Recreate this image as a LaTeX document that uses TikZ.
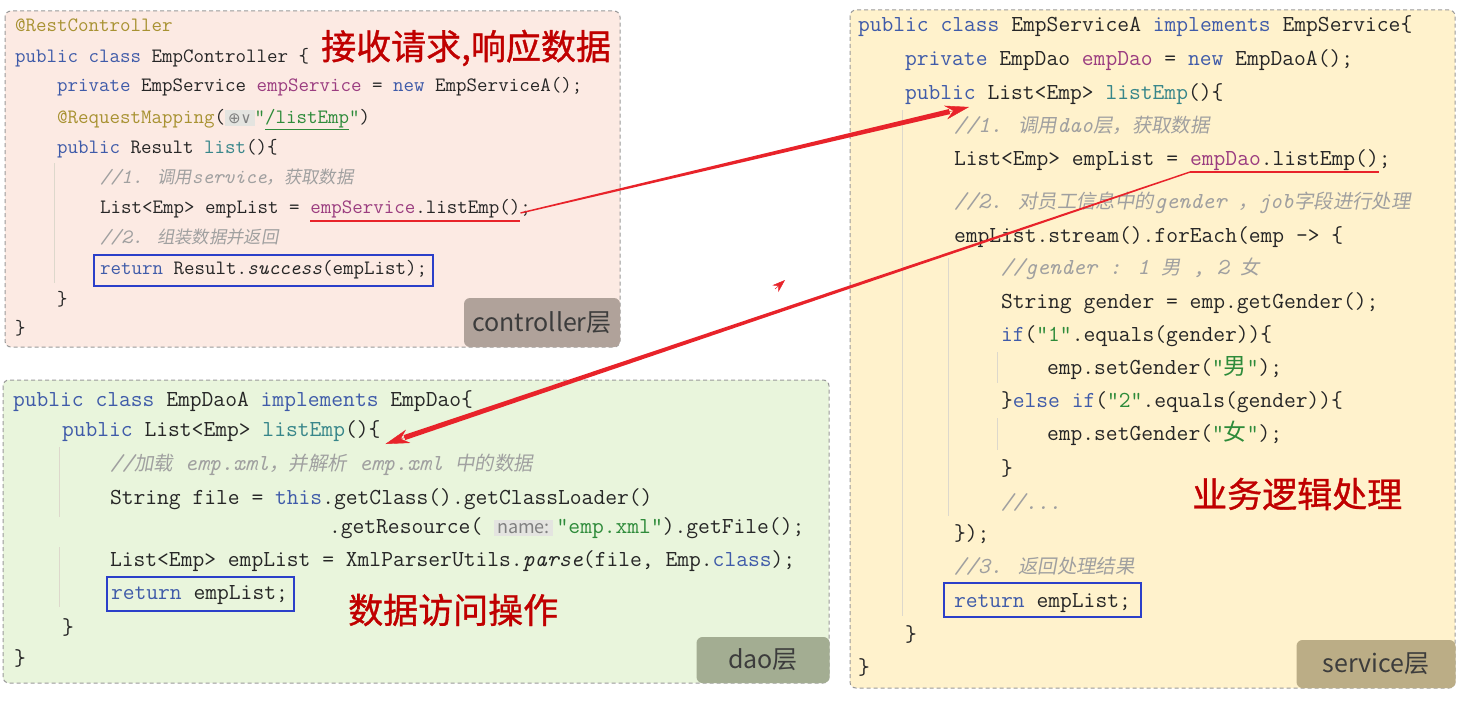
\documentclass[tikz,border=0pt]{standalone}
\usepackage{fontspec}
\usepackage{xcolor}
\usetikzlibrary{positioning,arrows.meta,calc}
\newfontfamily\cjk{Noto Sans CJK SC}
\newfontfamily\cjkit[FakeSlant=0.18,Scale=0.85]{Noto Sans CJK SC}
\newfontfamily\cjkbold[FakeBold=1]{Noto Sans CJK SC}
\newfontfamily\symfont{DejaVu Sans}

\definecolor{ctlfill}{HTML}{FCEAE3}
\definecolor{daofill}{HTML}{E9F5DC}
\definecolor{svcfill}{HTML}{FFF2CC}
\definecolor{ctltag}{HTML}{B0A29A}
\definecolor{daotag}{HTML}{A3AD92}
\definecolor{svctag}{HTML}{BBAD86}
\definecolor{tagtext}{HTML}{3C3C3C}
\definecolor{bordergray}{HTML}{9A9A9A}
\definecolor{guidegray}{HTML}{DDD8CC}
\definecolor{kwblue}{HTML}{3F5BA9}
\definecolor{annogold}{HTML}{A89232}
\definecolor{fieldpurple}{HTML}{9B3D80}
\definecolor{methteal}{HTML}{37868A}
\definecolor{strgreen}{HTML}{2E8B3A}
\definecolor{cmtgray}{HTML}{A0A0A0}
\definecolor{codeblack}{HTML}{262626}
\definecolor{hintbg}{HTML}{E4E4E0}
\definecolor{boxblue}{HTML}{2B3FC9}
\definecolor{arrowred}{HTML}{E8232A}
\definecolor{calloutred}{HTML}{C00000}

\newcommand\ckw[1]{\textcolor{kwblue}{#1}}
\newcommand\cann[1]{\textcolor{annogold}{#1}}
\newcommand\cfld[1]{\textcolor{fieldpurple}{#1}}
\newcommand\cmth[1]{\textcolor{methteal}{#1}}
\newcommand\cstrg[1]{\textcolor{strgreen}{#1}}
\newcommand\ccmt[1]{\textcolor{cmtgray}{\itshape #1}}
\newcommand\czh[1]{{\cjkit #1}}
\newcommand\czhup[1]{{\cjk #1}}
\newcommand\codeA{\fontsize{20.4}{24}\selectfont\ttfamily}
\newcommand\codeB{\fontsize{22.9}{27}\selectfont\ttfamily}
\newcommand\inlayhint[1]{\colorbox{hintbg}{\textcolor{gray}{#1}}}
% tapered call arrow: thin at the caller, thick at the callee
\newcommand\callarrow[2]{%
  \coordinate (tpA) at (#1);
  \coordinate (tpB) at ($(#2)!20pt!(#1)$);
  \fill[arrowred] ($(tpA)!0.7pt!90:(tpB)$) -- ($(tpB)!2.6pt!-90:(tpA)$)
    -- ($(tpB)!2.6pt!90:(tpA)$) -- ($(tpA)!0.7pt!-90:(tpB)$) -- cycle;
  \draw[arrowred, line width=0.4pt, -{Stealth[length=24pt,width=14pt]}] ($(#2)!24pt!(#1)$) -- (#2);
}

\tikzset{
  panel/.style={draw=bordergray, dash pattern=on 4pt off 3pt, line width=1pt, rounded corners=6pt},
  tag/.style={rounded corners=6pt, inner sep=0, text=tagtext, font=\cjk\fontsize{25}{30}\selectfont},
  ctl/.style={anchor=base west, inner sep=0, outer sep=0, font=\codeA, text=codeblack},
  svc/.style={anchor=base west, inner sep=0, outer sep=0, font=\codeB, text=codeblack},
  callout/.style={anchor=west, inner sep=0, text=calloutred, font=\cjkbold\fontsize{35}{40}\selectfont},
  retbox/.style={draw=boxblue, line width=1.5pt},
  guide/.style={draw=guidegray, line width=0.8pt},
  underl/.style={draw=arrowred, line width=1.5pt},
}

\begin{document}
\begin{tikzpicture}[x=1pt,y=-1pt]
\useasboundingbox (0,0) rectangle (1463,701);
\fill[white] (0,0) rectangle (1463,701);

% panels
\draw[panel, fill=ctlfill] (5,11) rectangle (620,347);
\draw[panel, fill=daofill] (3,380) rectangle (829,683);
\draw[panel, fill=svcfill] (850,10) rectangle (1455,688);

\node[tag, fill=ctltag, minimum width=156pt, minimum height=49pt] (ctlTag) at (542,322.5) {controller层};
\node[tag, fill=daotag, minimum width=133pt, minimum height=46pt] (daoTag) at (763,660) {dao层};
\node[tag, fill=svctag, minimum width=159pt, minimum height=48pt] (svcTag) at (1376,664) {service层};

% indent guides
\draw[guide] (54,163) -- (54,283);
\draw[guide] (59,447) -- (59,517);
\draw[guide] (59,547) -- (59,607);
\draw[guide] (902,110) -- (902,616);
\draw[guide] (948,258) -- (948,516);
\draw[guide] (997,352) -- (997,383);
\draw[guide] (997,418) -- (997,450);

% controller
\node[ctl] (c1) at (15,32) {\cann{@RestController}};
\node[ctl] (c2) at (15,63) {\ckw{public class} EmpController \{};
\node[ctl] (c3) at (57,92) {\ckw{private} EmpService \cfld{empService} = \ckw{new} EmpServiceA();};
\node[ctl] (c4) at (57,123) {\cann{@RequestMapping}(\inlayhint{\symfont\fontsize{15}{15}\selectfont ⊕∨}\cstrg{"\underline{/listEmp}"})};
\node[ctl] (c5) at (57,153) {\ckw{public} Result \cmth{list}()\{};
\node[ctl] (c6) at (100,183) {\ccmt{//1. \czh{调用}service\czh{，获取数据}}};
\node[ctl] (c7) at (100,213) {List<Emp> empList =};
\node[ctl] (c7call) at ([xshift=10.71pt]c7.base east) {\cfld{empService}.listEmp()};
\node[ctl] (c7end) at (c7call.base east) {;};
\node[ctl] (c8) at (100,243) {\ccmt{//2. \czh{组装数据并返回}}};
\node[ctl] (c9) at (100,274) {\ckw{return} Result.\textit{success}(empList);};
\node[ctl] (c10) at (57,305) {\}};
\node[ctl] (c11) at (15,334) {\}};
\draw[retbox] ([shift={(-6pt,19pt)}]c9.base west) rectangle ([shift={(6pt,-12pt)}]c9.base east);
\draw[underl] ([yshift=-8pt]c7call.base west) -- ([yshift=-8pt]c7call.base east);

\node[callout] (ctlNote) at (321,48) {接收请求,响应数据};

% dao
\node[svc] (d1) at (13,406) {\ckw{public class} EmpDaoA \ckw{implements} EmpDao\{};
\node[svc] (d2) at (62,436) {\ckw{public} List<Emp> \cmth{listEmp}()\{};
\node[svc] (d3) at (110,470) {\ccmt{//\czh{加载} emp.xml\czh{，并解析} emp.xml \czh{中的数据}}};
\node[svc] (d4) at (110,504) {String file = \ckw{this}.getClass().getClassLoader()};
\node[svc] (d5) at (329,533) {.getResource( \inlayhint{\cjk\fontsize{18}{18}\selectfont name:}\,\cstrg{"emp.xml"}).getFile();};
\node[svc] (d6) at (110,566) {List<Emp> empList = XmlParserUtils.\textit{parse}(file, Emp.\ckw{class});};
\node[svc] (d7) at (111,599) {\ckw{return} empList;};
\node[svc] (d8) at (62,634) {\}};
\node[svc] (d9) at (14,665) {\}};
\draw[retbox] ([shift={(-4pt,22pt)}]d7.base west) rectangle ([shift={(6pt,-12pt)}]d7.base east);

\node[callout] (daoNote) at (348,610) {数据访问操作};

% service
\node[svc] (s1) at (858,32) {\ckw{public class} EmpServiceA \ckw{implements} EmpService\{};
\node[svc] (s2) at (905,66) {\ckw{private} EmpDao \cfld{empDao} = \ckw{new} EmpDaoA();};
\node[svc] (s3) at (905,99) {\ckw{public} List<Emp> \cmth{listEmp}()\{};
\node[svc] (s4) at (954,132) {\ccmt{//1. \czh{调用}dao\czh{层，获取数据}}};
\node[svc] (s5) at (954,165) {List<Emp> empList =};
\node[svc] (s5call) at ([xshift=12.02pt]s5.base east) {\cfld{empDao}.listEmp()};
\node[svc] (s5end) at (s5call.base east) {;};
\node[svc] (s6) at (954,208) {\ccmt{//2. \czh{对员工信息中的}gender \czh{，}job\czh{字段进行处理}}};
\node[svc] (s7) at (954,242) {empList.stream().forEach(emp -> \{};
\node[svc] (s8) at (1001,274) {\ccmt{//gender : 1 \czh{男} , 2 \czh{女}}};
\node[svc] (s9) at (1001,308) {String gender = emp.getGender();};
\node[svc] (s10) at (1001,341) {\ckw{if}(\cstrg{"1"}.equals(gender))\{};
\node[svc] (s11) at (1047,374) {emp.setGender(\cstrg{"\czhup{男}"});};
\node[svc] (s12) at (1001,407) {\}\ckw{else if}(\cstrg{"2"}.equals(gender))\{};
\node[svc] (s13) at (1047,440) {emp.setGender(\cstrg{"\czhup{女}"});};
\node[svc] (s14) at (1001,475) {\}};
\node[svc] (s15) at (1001,509) {\ccmt{//...}};
\node[svc] (s16) at (954,540) {\});};
\node[svc] (s17) at (954,573) {\ccmt{//3. \czh{返回处理结果}}};
\node[svc] (s18) at (954,607) {\ckw{return} empList;};
\node[svc] (s19) at (905,641) {\}};
\node[svc] (s20) at (858,674) {\}};
\draw[retbox] ([shift={(-10pt,24pt)}]s18.base west) rectangle ([shift={(10pt,-10pt)}]s18.base east);
\draw[underl] ([yshift=-7pt]s5call.base west) -- ([yshift=-7pt]s5call.base east);

\node[callout] (svcNote) at (1192,494) {业务逻辑处理};

% calls between layers
\coordinate (ctlOut) at (c7call.base east);
\coordinate (svcIn) at ([shift={(64pt,-8pt)}]s3.base west);
\coordinate (svcOut) at ([yshift=-7pt]s5call.base west);
\coordinate (daoIn) at ([shift={(5pt,-8pt)}]d2.base east);
\callarrow{ctlOut}{svcIn}
\callarrow{svcOut}{daoIn}
\coordinate (strayTail) at (775,289);
\coordinate (strayTip) at (785,280);
\draw[draw=arrowred, line width=0.5pt, -{Stealth[length=13pt,width=9pt]}] (strayTail) -- (strayTip);
\end{tikzpicture}
\end{document}
